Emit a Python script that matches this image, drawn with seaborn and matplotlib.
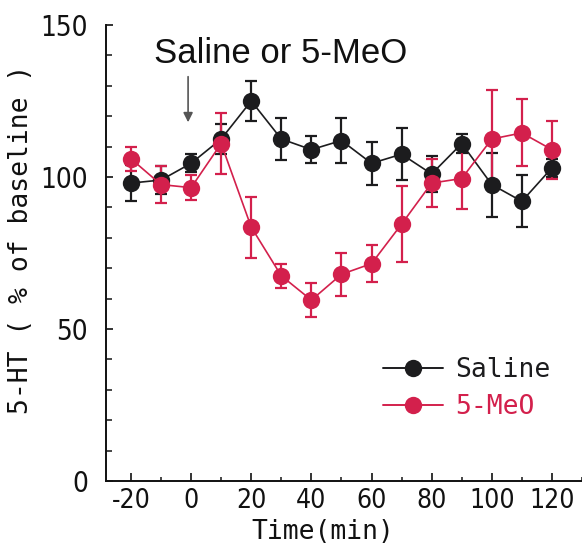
import matplotlib
matplotlib.use("Agg")
import matplotlib.pyplot as plt
import seaborn as sns
import pandas as pd
import numpy as np
from matplotlib.lines import Line2D
from matplotlib.ticker import MultipleLocator
from matplotlib.font_manager import FontProperties

# ---- data ----
time_min = [-20, -10, 0, 10, 20, 30, 40, 50, 60, 70, 80, 90, 100, 110, 120]
saline_mean = [98, 99, 104.5, 112.5, 125, 112.5, 109, 112, 104.5, 107.5, 101, 111, 97.5, 92, 103]
saline_err = [6, 4.5, 3, 5, 6.5, 7, 4.5, 7.5, 7, 8.5, 6, 3, 10.5, 8.5, 3]
meo_mean = [106, 97.5, 96.5, 111, 83.5, 67.5, 59.5, 68, 71.5, 84.5, 98, 99.5, 112.5, 114.5, 109]
meo_err = [4, 6, 4, 10, 10, 4, 5.5, 7, 6, 12.5, 8, 10, 16, 11, 9.5]
groups = ["Saline", "5-MeO"]
colors = {"Saline": "#1c1c1e", "5-MeO": "#d3204c"}
x_ticks = [-20, 0, 20, 40, 60, 80, 100, 120]
y_ticks = [0, 50, 100, 150]
annot_text = "Saline or 5-MeO"
y_label = "5-HT ( % of baseline )"
x_label = "Time(min)"

df = pd.DataFrame({
    "time": time_min * 2,
    "value": saline_mean + meo_mean,
    "err": saline_err + meo_err,
    "group": ["Saline"] * len(time_min) + ["5-MeO"] * len(time_min),
})

sns.set_theme(style="ticks")
plt.rcParams["font.family"] = ["DejaVu Sans"]
plt.rcParams["font.stretch"] = "condensed"
plt.rcParams["axes.unicode_minus"] = False
ink = "#111111"

fig = plt.figure(figsize=(5.82, 5.46), dpi=100)
W, H = 582, 546
left, right, bottom, top = 106, 582, 481, 25
ax = fig.add_axes([left / W, (H - bottom) / H, (right - left) / W, (bottom - top) / H])

for g in groups:
    sub = df[df["group"] == g]
    ax.errorbar(sub["time"], sub["value"], yerr=sub["err"], fmt="none",
                ecolor=colors[g], elinewidth=1.6, capsize=4, capthick=1.6, zorder=2)

sns.lineplot(data=df, x="time", y="value", hue="group", hue_order=groups,
             palette=colors, marker="o", markersize=12.5, markeredgewidth=0,
             linewidth=1.2, legend=False, ax=ax, zorder=3)

ax.set_xlim(-28.3, 130)
ax.set_ylim(0, 150)
ax.set_xticks(x_ticks)
ax.set_yticks(y_ticks)
ax.xaxis.set_minor_locator(MultipleLocator(10))
ax.yaxis.set_minor_locator(MultipleLocator(10))
ax.tick_params(axis="x", which="major", direction="in", length=6, width=1.2, pad=5,
               labelsize=19, colors=ink)
ax.tick_params(axis="x", which="minor", direction="in", length=3, width=1.2)
ax.tick_params(axis="y", which="major", direction="in", length=5, width=1.2, pad=13,
               labelsize=20, colors=ink)
ax.tick_params(axis="y", which="minor", direction="in", length=4, width=1.2)
for s in ["top", "right"]:
    ax.spines[s].set_visible(False)
for s in ["left", "bottom"]:
    ax.spines[s].set_linewidth(1.4)
    ax.spines[s].set_color(ink)

mono = FontProperties(family="DejaVu Sans Mono", stretch="normal", size=19)
ax.set_xlabel(x_label, fontproperties=mono, color=ink)
ax.xaxis.set_label_coords(0.455, -0.083)
ax.set_ylabel(y_label, fontproperties=FontProperties(family="DejaVu Sans Mono",
              stretch="normal", size=19), color=ink)
ax.yaxis.set_label_coords(-0.178, 0.53)
ax.yaxis.label.set_va("center")

ax.text(29.7, 137.5, annot_text, ha="center", va="baseline", fontsize=25,
        family=["Liberation Sans", "DejaVu Sans"], stretch="normal", color=ink)
ax.annotate("", xy=(-1, 118), xytext=(-1, 133),
            arrowprops=dict(arrowstyle="-|>", color="#555555", lw=1.2,
                            mutation_scale=14, shrinkA=0, shrinkB=0))

handles = [Line2D([], [], color=colors[g], marker="o", markersize=12.5,
                  markeredgewidth=0, linewidth=1.4) for g in groups]
leg = ax.legend(handles, groups, loc="upper left", bbox_to_anchor=(0.56, 0.295),
                frameon=False, prop=mono, handlelength=2.27, handletextpad=0.45,
                labelspacing=0.42, borderaxespad=0)
for t, g in zip(leg.get_texts(), groups):
    t.set_color(colors[g])

fig.savefig("out.png", dpi=100)
